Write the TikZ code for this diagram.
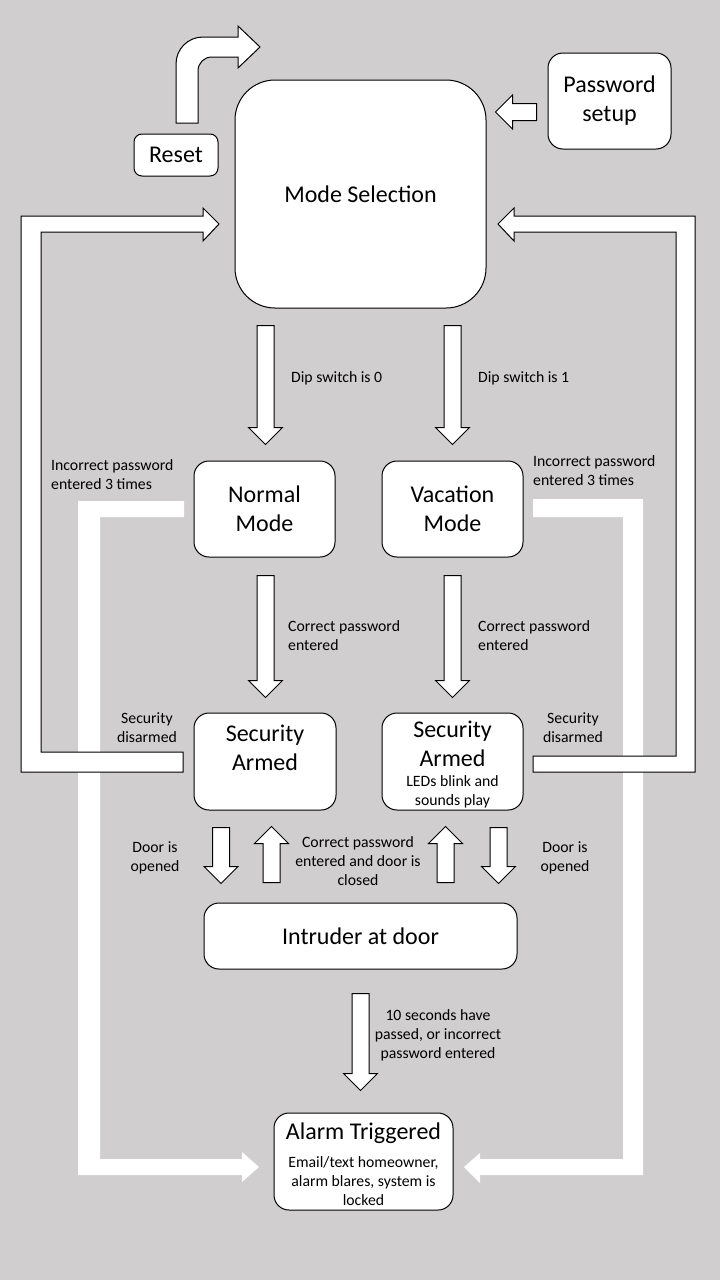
\documentclass[tikz,border=0pt]{standalone}
\usepackage{fontspec}
\setmainfont{Carlito}
\usetikzlibrary{shapes.arrows,positioning}
\definecolor{panelgray}{HTML}{D0CECE}
\newcommand\boxfont{\fontsize{24}{29}\selectfont}
\newcommand\notefont{\fontsize{15.75}{19}\selectfont}

\begin{document}
\begin{tikzpicture}[x=1pt,y=-1pt,
  box/.style={draw, fill=white, line width=1pt, rounded corners=15pt, align=center, font=\boxfont, inner sep=0pt},
  boxtext/.style={font=\boxfont, inner sep=0pt},
  note/.style={font=\notefont, inner sep=0pt},
  blockarr/.style={single arrow, draw, fill=white, line width=1pt, text height=16pt, text depth=0pt,
    minimum width=33pt, single arrow head extend=8.5pt, inner sep=0pt, anchor=tail},
  outline/.style={draw, fill=white, line width=1pt, line join=miter},
  fatpath/.style={fill=white}]
  \fill[panelgray] (0,0) rectangle (720,1280);
  \useasboundingbox (0,0) rectangle (720,1280);

  % wide white paths to the alarm
  \path[fatpath] (184,501) -- (78,501) -- (78,1175) -- (242,1175) -- (242,1182) -- (259,1167)
    -- (242,1152) -- (242,1159) -- (100,1159) -- (100,517) -- (184,517) -- cycle;
  \path[fatpath] (533,499) -- (643,499) -- (643,1175) -- (480,1175) -- (480,1183) -- (464,1167)
    -- (480,1153) -- (480,1159) -- (623,1159) -- (623,517) -- (533,517) -- cycle;

  % disarm loops back to mode selection
  \draw[outline] (183,772) -- (21,772) -- (21,216) -- (203,216) -- (203,208) -- (219,224)
    -- (203,241) -- (203,232) -- (41,232) -- (41,752) -- (183,752) -- cycle;
  \draw[outline] (533,772) -- (695,772) -- (695,216) -- (514,216) -- (514,208) -- (498,224)
    -- (514,241) -- (514,232) -- (676,232) -- (676,756) -- (533,756) -- cycle;

  % reset arrow
  \draw[outline] (176,123) -- (176,64) .. controls (176,49) and (188,37) .. (203,37) -- (238,37)
    -- (238,26) -- (260,47) -- (238,68) -- (238,57) -- (212,57)
    .. controls (204,57) and (198,63) .. (198,71) -- (198,123) -- cycle;

  % states
  \node[box, minimum width=251pt, minimum height=228pt, rounded corners=40pt] (modesel) at (360.5,194) {Mode Selection};
  \node[box, minimum width=84pt, minimum height=42pt, rounded corners=8pt] (reset) at (176,155) {Reset};
  \node[box, minimum width=123pt, minimum height=96pt] (pwsetup) at (609.5,101) {Password\\setup};
  \node[box, minimum width=141pt, minimum height=96pt] (normal) at (264.5,509) {Normal\\Mode};
  \node[box, minimum width=141pt, minimum height=96pt] (vacation) at (452.5,509) {Vacation\\Mode};
  \node[box, minimum width=142pt, minimum height=97pt] (armedN) at (265,761.5) {};
  \node[boxtext, align=center, anchor=north] (armedNtxt) at ([yshift=-12pt]armedN.north) {Security\\Armed};
  \node[box, minimum width=141pt, minimum height=97pt] (armedV) at (452.5,761.5) {};
  \node[boxtext, text width=141pt, align=flush center] (armedVtxt) at ([yshift=-3.5pt]armedV.center)
    {Security\\Armed\par\vspace{1pt}{\notefont LEDs blink and\\sounds play\par}};
  \node[box, minimum width=313pt, minimum height=66pt] (intruder) at (360.5,936) {Intruder at door};
  \node[box, minimum width=179pt, minimum height=97pt] (alarm) at (363.5,1161.5) {};
  \node[boxtext, text width=179pt, align=flush center] (alarmtxt) at ([yshift=-3pt]alarm.center)
    {Alarm Triggered\par\vspace{9pt}{\notefont Email/text homeowner,\\alarm blares, system is\\locked\par}};

  % transitions
  \node[blockarr, minimum height=41pt, rotate=180] (setpw) at (537,112) {};
  \node[blockarr, minimum height=119pt, rotate=-90] (selnormal) at (265.5,325) {};
  \node[blockarr, minimum height=119pt, rotate=-90] (selvacation) at (452.5,325) {};
  \node[blockarr, minimum height=122pt, rotate=-90] (armnormal) at (265.5,575) {};
  \node[blockarr, minimum height=122pt, rotate=-90] (armvacation) at (452.5,575) {};
  \node[blockarr, minimum height=56pt, rotate=-90] (openN) at (221,827) {};
  \node[blockarr, minimum height=56pt, rotate=90] (closeN) at (271.5,883) {};
  \node[blockarr, minimum height=56pt, rotate=90] (closeV) at (445.5,883) {};
  \node[blockarr, minimum height=56pt, rotate=-90] (openV) at (498.5,827) {};
  \node[blockarr, minimum height=97pt, rotate=-90] (trigger) at (360.5,993) {};

  % labels
  \node[note, anchor=west] (dip0) at (291,378) {Dip switch is 0};
  \node[note, anchor=west] (dip1) at (478,378) {Dip switch is 1};
  \node[note, anchor=west, align=left] (wrongN) at (51,474.5) {Incorrect password\\entered 3 times};
  \node[note, anchor=west, align=left] (wrongV) at (533,470.5) {Incorrect password\\entered 3 times};
  \node[note, anchor=west, align=left] (okN) at (288,635.5) {Correct password\\entered};
  \node[note, anchor=west, align=left] (okV) at (478,635.5) {Correct password\\entered};
  \node[note, align=center] (disN) at (147,727.5) {Security\\disarmed};
  \node[note, align=center] (disV) at (573,727.5) {Security\\disarmed};
  \node[note, align=center] (openNlbl) at (155,858) {Door is\\opened};
  \node[note, align=center] (openVlbl) at (565,858) {Door is\\opened};
  \node[note, align=center] (closedlbl) at (358,861) {Correct password\\entered and door is\\closed};
  \node[note, align=center] (timeout) at (438,1035) {10 seconds have\\passed, or incorrect\\password entered};
\end{tikzpicture}
\end{document}
